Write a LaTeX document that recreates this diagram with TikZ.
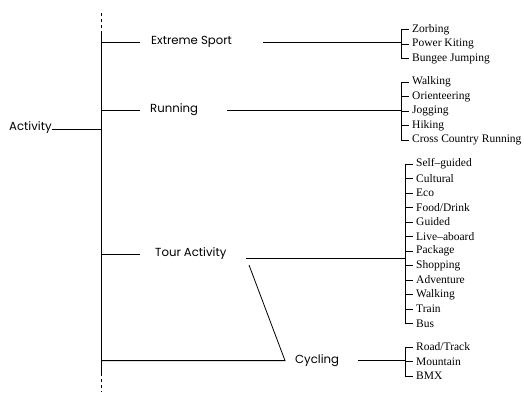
\documentclass[tikz,border=0pt]{standalone}
\usepackage{fontspec}
\setmainfont{Liberation Serif}
\newfontfamily\mainlab{Poppins}
\begin{document}
\begin{tikzpicture}[x=1pt,y=-1pt,
  conn/.style={draw=black, line width=0.8pt},
  dashconn/.style={draw=black, line width=0.8pt, dash pattern=on 3pt off 3pt},
  mainlabel/.style={inner sep=0pt, anchor=west, font=\mainlab\fontsize{11.7}{12}\selectfont},
  leaf/.style={inner sep=0pt, anchor=west, font=\fontsize{11.5}{12}\selectfont}]
\useasboundingbox (0,0) rectangle (524,392);
% spine
\coordinate (sptop) at (101,13);
\coordinate (sps) at (101,33);
\coordinate (spe) at (101,373);
\coordinate (spbot) at (101,392);
\draw[dashconn] (sptop) -- (sps);
\draw[conn] (sps) -- (spe);
\draw[dashconn] (spe) -- (spbot);
% root
\node[mainlabel] (act) at (9,128) {Activity};
\coordinate (sAct) at (101,129);
\draw[conn] (act.east |- 0,129) -- (sAct);
% level 1 labels
\node[mainlabel] (ext) at (151,42) {Extreme Sport};
\node[mainlabel] (run) at (150,110) {Running};
\node[mainlabel] (tour) at (155,254) {Tour Activity};
\node[mainlabel] (cyc) at (295,360.5) {Cycling};
% stubs
\foreach \n/\y in {e/42, r/110, t/254} {
  \coordinate (s\n1) at (101,\y);
  \coordinate (s\n2) at (140,\y);
  \draw[conn] (s\n1) -- (s\n2);
}
% cycling path
\coordinate (c1) at (101,360.6);
\coordinate (c2) at (285,360.6);
\coordinate (c3) at (249,265);
\draw[conn] (c1) -- (c2) -- (c3);
% brackets
\coordinate (be) at (401,42);
\coordinate (br) at (401,110);
\coordinate (bt) at (405,258);
\coordinate (bc) at (405,360);
\draw[conn] (263,42) -- (be);
\draw[conn] (227,110) -- (br);
\coordinate (tu) at (246,258);
\draw[conn] (tu) -- (bt);
\coordinate (cu) at (358,360);
\draw[conn] (cu) -- (bc);
% leaf groups
\newcommand\leafgroup[4]{% x, first y, name prefix, list
  \foreach \t [count=\i from 0] in {#4} {
    \pgfmathsetmacro\yy{#2+14.5*\i}
    \coordinate (#3a\i) at (#1,\yy);
    \coordinate (#3b\i) at (#1+8,\yy);
    \draw[conn] (#3a\i) -- (#3b\i);
    \node[leaf] (#3n\i) at (#1+11,\yy) {\t};
  }
}
\leafgroup{401}{29.5}{E}{Zorbing,Power Kiting,Bungee Jumping}
\draw[conn] (Ea0) -- (Ea2);
\leafgroup{401}{82}{R}{Walking,Orienteering,Jogging,Hiking,Cross Country Running}
\draw[conn] (Ra0) -- (Ra4);
\leafgroup{405}{164}{T}{Self{\char"2013}guided,Cultural,Eco,Food/Drink,Guided,Live{\char"2013}aboard,Package,Shopping,Adventure,Walking,Train,Bus}
\draw[conn] (Ta0) -- (Ta11);
\leafgroup{405}{347}{C}{Road/Track,Mountain,BMX}
\draw[conn] (Ca0) -- (Ca2);
\end{tikzpicture}
\end{document}
